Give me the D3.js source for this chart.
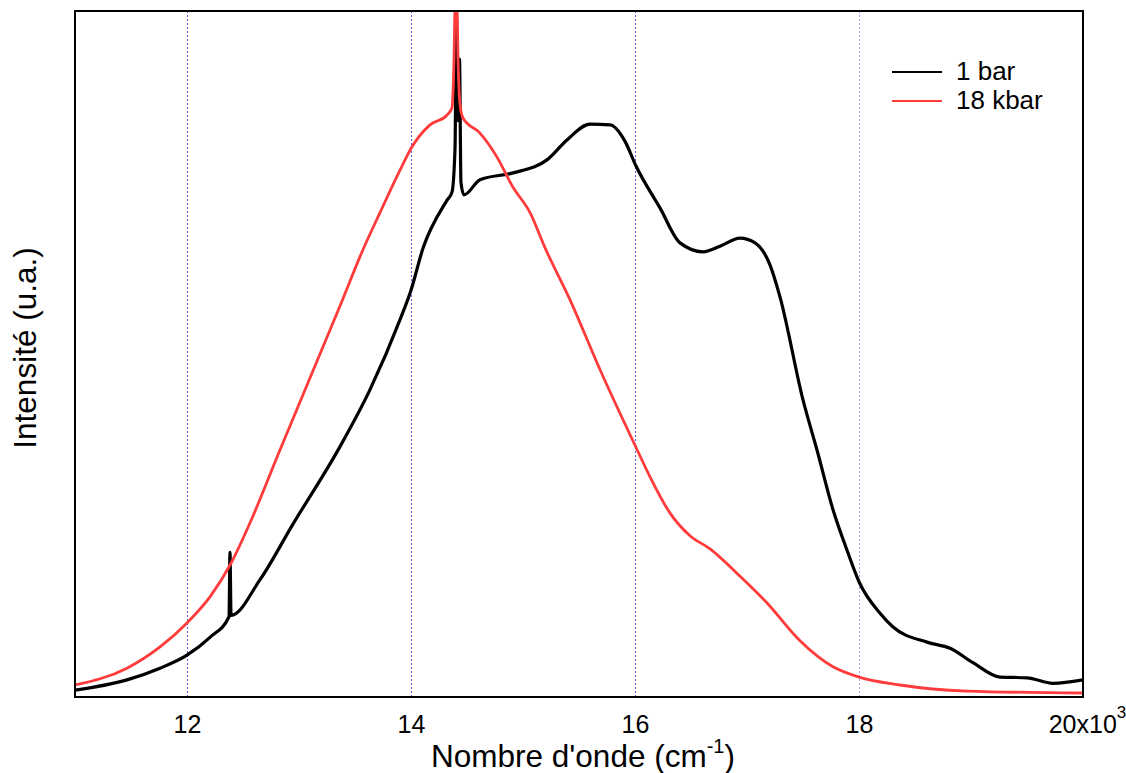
<!DOCTYPE html>
<html>
<head>
<meta charset="utf-8">
<script src="https://cdn.jsdelivr.net/npm/d3@7"></script>
<style>
  html, body { margin: 0; padding: 0; background: #fff; }
  svg { display: block; font-family: "Liberation Sans", Arial, Helvetica, sans-serif; }
</style>
</head>
<body>
<svg id="chart" width="1126" height="773"></svg>
<script>
// ---- data (wavenumber in cm-1, intensity in arbitrary units 0..100) ----
const bar1Wave = [11000, 11464, 11759, 12000, 12205, 12375, 12384, 12393, 12652, 12946, 13366, 13634, 13902, 14000, 14107, 14321, 14366, 14393, 14406, 14420, 14433, 14446, 14473, 14616, 14911, 15214, 15393, 15598, 15777, 15911, 16009, 16223, 16402, 16607, 16759, 16938, 17072, 17205, 17295, 17500, 17625, 17768, 17893, 18000, 18188, 18304, 18607, 18813, 19018, 19259, 19500, 19732, 20000];
const bar1Int  = [1.0, 2.5, 4.2, 6.1, 8.7, 11.7, 21.1, 11.9, 17.1, 25.2, 36.5, 44.8, 55.0, 59.3, 65.4, 72.4, 73.6, 80.0, 99.0, 84.0, 93.0, 75.0, 73.2, 75.4, 76.4, 78.3, 81.2, 83.5, 83.4, 81.0, 77.4, 71.3, 66.2, 64.9, 65.7, 66.9, 66.2, 63.0, 58.3, 43.3, 36.0, 27.3, 21.4, 16.8, 12.2, 10.2, 8.0, 7.1, 5.0, 2.9, 2.8, 2.0, 2.5];

const kbar18Wave = [11000, 11464, 11759, 12000, 12205, 12393, 12563, 12830, 13098, 13366, 13571, 13723, 13902, 14009, 14170, 14321, 14366, 14384, 14393, 14411, 14420, 14438, 14464, 14616, 14768, 14911, 15063, 15196, 15420, 15688, 16000, 16134, 16313, 16491, 16670, 16938, 17179, 17473, 17768, 18000, 18366, 18964, 20000];
const kbar18Int  = [1.75, 4.2, 7.3, 10.8, 14.6, 19.5, 25.4, 36.0, 46.5, 57.0, 65.2, 70.6, 76.8, 80.2, 83.4, 84.8, 85.9, 92.9, 100, 100, 92.9, 86.3, 84.4, 82.2, 78.7, 74.3, 70.6, 65.5, 57.9, 47.7, 36.7, 32.1, 26.8, 23.5, 21.6, 17.6, 13.7, 8.2, 4.4, 2.9, 1.75, 0.87, 0.58];

const xTicks = [12000, 14000, 16000, 18000, 20000];
const xTickLabels = ["12", "14", "16", "18", "20x10"];
const gridTicks = [12000, 14000, 16000, 18000];
const seriesNames = ["1 bar", "18 kbar"];
const seriesColors = ["#000000", "#ff3b3b"];

// ---- layout ----
const svg = d3.select("#chart");
const L = 75, R = 1083, T = 11, B = 697;
const x = d3.scaleLinear().domain([11000, 20000]).range([L, R]);
const y = d3.scaleLinear().domain([0, 100]).range([B, T]);

// grid lines
svg.append("g").selectAll("line").data(gridTicks).join("line")
  .attr("x1", d => Math.round(x(d)) + 0.5).attr("x2", d => Math.round(x(d)) + 0.5)
  .attr("y1", T).attr("y2", B)
  .attr("stroke", d => d === 18000 ? "#9a9aff" : "#5a5aee")
  .attr("stroke-width", 1)
  .attr("stroke-dasharray", "2,2");

// clip
svg.append("clipPath").attr("id", "clip").append("rect")
  .attr("x", L).attr("y", T).attr("width", R - L).attr("height", B - T);

const line = d3.line().x(d => x(d[0])).y(d => y(d[1])).curve(d3.curveMonotoneX);
const s1 = bar1Wave.map((w, i) => [w, bar1Int[i]]);
const s2 = kbar18Wave.map((w, i) => [w, kbar18Int[i]]);

const plot = svg.append("g").attr("clip-path", "url(#clip)");
plot.append("path").datum(s1).attr("d", line)
  .attr("fill", "none").attr("stroke", seriesColors[0]).attr("stroke-width", 3.2).attr("stroke-linejoin", "round");
plot.append("path").datum(s2).attr("d", line)
  .attr("fill", "none").attr("stroke", seriesColors[1]).attr("stroke-width", 2.8).attr("stroke-linejoin", "round");

// frame
svg.append("rect").attr("x", L).attr("y", T).attr("width", R - L).attr("height", B - T)
  .attr("fill", "none").attr("stroke", "#000").attr("stroke-width", 2);

// x axis labels via axis generator (no tick lines)
const xAxis = d3.axisBottom(x).tickValues(xTicks).tickSize(0).tickPadding(0)
  .tickFormat((d, i) => xTickLabels[i]);
const gx = svg.append("g").attr("transform", `translate(0,${B})`).call(xAxis);
gx.select(".domain").remove();
gx.selectAll("text").attr("font-size", 25).attr("fill", "#000")
  .attr("font-family", "'Liberation Sans', Arial, sans-serif")
  .attr("dy", null).attr("y", 36);
// superscript on last label
gx.selectAll(".tick").filter(d => d === 20000).select("text")
  .append("tspan").attr("dy", -15).attr("font-size", 17).text("3");
gx.selectAll(".tick").filter(d => d === 20000).select("text").attr("x", 4);

// axis titles
const xt = svg.append("text").attr("x", 583).attr("y", 767).attr("text-anchor", "middle")
  .attr("font-size", 31.5).attr("fill", "#000");
xt.append("tspan").text("Nombre d'onde (cm");
xt.append("tspan").attr("font-size", 20).attr("dy", -14).text("-1");
xt.append("tspan").attr("dy", 14).text(")");

svg.append("text").attr("transform", "translate(36,348) rotate(-90)")
  .attr("text-anchor", "middle").attr("font-size", 31.5).attr("fill", "#000")
  .text("Intensité (u.a.)");

// legend
const leg = svg.append("g");
seriesNames.forEach((n, i) => {
  const yy = 72 + i * 29;
  leg.append("line").attr("x1", 892).attr("x2", 942).attr("y1", yy).attr("y2", yy)
    .attr("stroke", seriesColors[i]).attr("stroke-width", 2);
  leg.append("text").attr("x", 956).attr("y", yy + 8).attr("font-size", 26).attr("fill", "#000").text(n);
});
</script>
</body>
</html>
